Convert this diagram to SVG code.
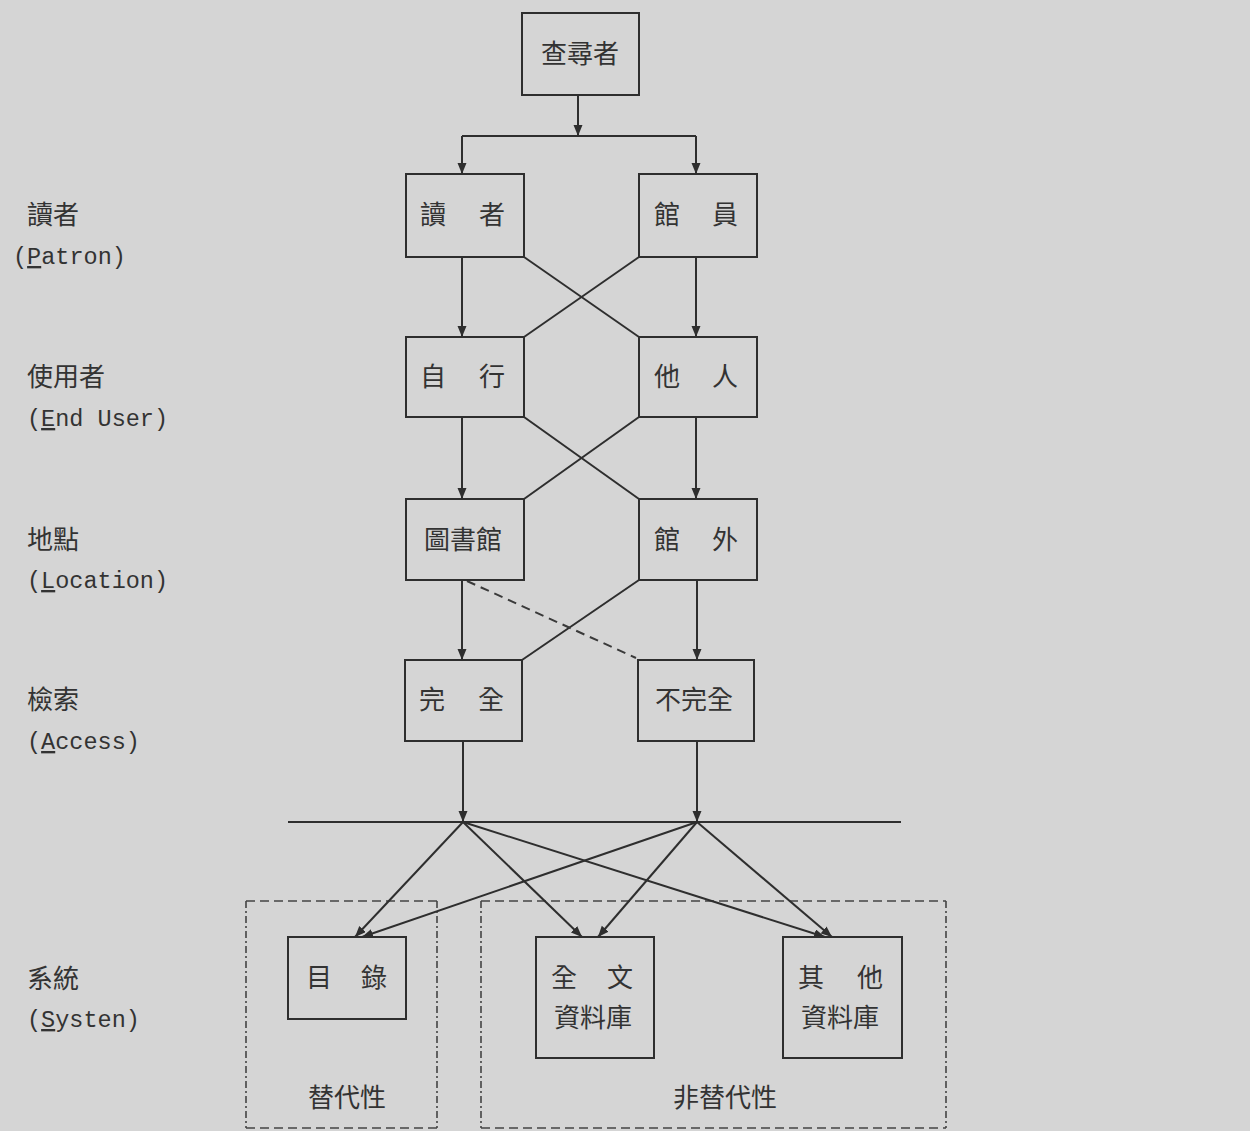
<svg xmlns="http://www.w3.org/2000/svg" width="1250" height="1131" viewBox="0 0 1250 1131">
<defs>
<style>
.bg{fill:#d5d5d5}
.box{fill:none;stroke:#2e2e2e;stroke-width:2}
.ln{fill:none;stroke:#2e2e2e;stroke-width:2}
.dash{fill:none;stroke:#3a3a3a;stroke-width:2;stroke-dasharray:9 6}
.reg{fill:none;stroke:#444;stroke-width:1.6;stroke-dasharray:9 5}
.regs{fill:none;stroke:#444;stroke-width:1.6;stroke-dasharray:7 3 2 3}
.zh{font-family:"Noto Sans CJK TC","Noto Sans CJK SC",sans-serif;font-size:26px;fill:#333}
.en{font-family:"Liberation Mono","DejaVu Sans Mono",monospace;font-size:23.5px;fill:#333}
.ul{text-decoration:underline}
</style>
<marker id="ah" markerUnits="userSpaceOnUse" markerWidth="12" markerHeight="10" refX="11" refY="4.5" orient="auto">
<path d="M0,0 L11,4.5 L0,9 Z" fill="#2e2e2e"/>
</marker>
</defs>
<rect class="bg" x="0" y="0" width="1250" height="1131"/>

<g id="row-labels">
<text class="zh" x="27" y="224">讀者</text>
<text class="en" x="13" y="264">(<tspan class="ul">P</tspan>atron)</text>
<text class="zh" x="27" y="386">使用者</text>
<text class="en" x="27" y="426">(<tspan class="ul">E</tspan>nd User)</text>
<text class="zh" x="27" y="549">地點</text>
<text class="en" x="27" y="588">(<tspan class="ul">L</tspan>ocation)</text>
<text class="zh" x="27" y="709">檢索</text>
<text class="en" x="27" y="749">(<tspan class="ul">A</tspan>ccess)</text>
<text class="zh" x="27" y="988">系統</text>
<text class="en" x="27" y="1027">(<tspan class="ul">S</tspan>ysten)</text>
</g>

<g id="regions">
<line class="reg" x1="246" y1="901" x2="437" y2="901"/>
<line class="reg" x1="246" y1="1128" x2="437" y2="1128"/>
<line class="regs" x1="246" y1="901" x2="246" y2="1128"/>
<line class="regs" x1="437" y1="901" x2="437" y2="1128"/>
<text class="zh" x="347" y="1107" text-anchor="middle">替代性</text>
<line class="reg" x1="481" y1="901" x2="946" y2="901"/>
<line class="reg" x1="481" y1="1128" x2="946" y2="1128"/>
<line class="regs" x1="481" y1="901" x2="481" y2="1128"/>
<line class="regs" x1="946" y1="901" x2="946" y2="1128"/>
<text class="zh" x="725" y="1107" text-anchor="middle">非替代性</text>
</g>

<g id="connectors">
<line class="ln" x1="578" y1="95" x2="578" y2="136" marker-end="url(#ah)"/>
<polyline class="ln" points="462,136 696,136"/>
<line class="ln" x1="462" y1="136" x2="462" y2="174" marker-end="url(#ah)"/>
<line class="ln" x1="696" y1="136" x2="696" y2="174" marker-end="url(#ah)"/>
<line class="ln" x1="462" y1="257" x2="462" y2="337" marker-end="url(#ah)"/>
<line class="ln" x1="696" y1="257" x2="696" y2="337" marker-end="url(#ah)"/>
<line class="ln" x1="524" y1="257" x2="639" y2="337"/>
<line class="ln" x1="639" y1="257" x2="524" y2="337"/>
<line class="ln" x1="462" y1="417" x2="462" y2="499" marker-end="url(#ah)"/>
<line class="ln" x1="696" y1="417" x2="696" y2="499" marker-end="url(#ah)"/>
<line class="ln" x1="524" y1="417" x2="639" y2="499"/>
<line class="ln" x1="639" y1="417" x2="524" y2="499"/>
<line class="ln" x1="462" y1="580" x2="462" y2="660" marker-end="url(#ah)"/>
<line class="ln" x1="697" y1="580" x2="697" y2="660" marker-end="url(#ah)"/>
<line class="ln" x1="639" y1="580" x2="522" y2="660"/>
<line class="dash" x1="467" y1="581" x2="636" y2="658"/>
<line class="ln" x1="463" y1="741" x2="463" y2="822" marker-end="url(#ah)"/>
<line class="ln" x1="697" y1="741" x2="697" y2="822" marker-end="url(#ah)"/>
<line class="ln" x1="288" y1="822" x2="901" y2="822"/>
<line class="ln" x1="463" y1="822" x2="355" y2="937" marker-end="url(#ah)"/>
<line class="ln" x1="463" y1="822" x2="582" y2="937" marker-end="url(#ah)"/>
<line class="ln" x1="463" y1="822" x2="825" y2="937" marker-end="url(#ah)"/>
<line class="ln" x1="697" y1="822" x2="362" y2="937" marker-end="url(#ah)"/>
<line class="ln" x1="697" y1="822" x2="598" y2="937" marker-end="url(#ah)"/>
<line class="ln" x1="697" y1="822" x2="832" y2="937" marker-end="url(#ah)"/>
</g>

<g id="n-searcher"><rect class="box" x="522" y="13" width="117" height="82"/><text class="zh" x="580" y="63" text-anchor="middle">查尋者</text></g>
<g id="n-reader"><rect class="box" x="406" y="174" width="118" height="83"/><text class="zh" x="420" y="224">讀</text><text class="zh" x="479" y="224">者</text></g>
<g id="n-librarian"><rect class="box" x="639" y="174" width="118" height="83"/><text class="zh" x="654" y="224">館</text><text class="zh" x="712" y="224">員</text></g>
<g id="n-self"><rect class="box" x="406" y="337" width="118" height="80"/><text class="zh" x="420" y="386">自</text><text class="zh" x="479" y="386">行</text></g>
<g id="n-other"><rect class="box" x="639" y="337" width="118" height="80"/><text class="zh" x="654" y="386">他</text><text class="zh" x="712" y="386">人</text></g>
<g id="n-library"><rect class="box" x="406" y="499" width="118" height="81"/><text class="zh" x="463" y="549" text-anchor="middle">圖書館</text></g>
<g id="n-outside"><rect class="box" x="639" y="499" width="118" height="81"/><text class="zh" x="654" y="549">館</text><text class="zh" x="712" y="549">外</text></g>
<g id="n-full"><rect class="box" x="405" y="660" width="117" height="81"/><text class="zh" x="419" y="709">完</text><text class="zh" x="478" y="709">全</text></g>
<g id="n-partial"><rect class="box" x="638" y="660" width="116" height="81"/><text class="zh" x="694" y="709" text-anchor="middle">不完全</text></g>
<g id="n-catalog"><rect class="box" x="288" y="937" width="118" height="82"/><text class="zh" x="306" y="987">目</text><text class="zh" x="361" y="987">錄</text></g>
<g id="n-fulltext"><rect class="box" x="536" y="937" width="118" height="121"/><text class="zh" x="551" y="987">全</text><text class="zh" x="607" y="987">文</text><text class="zh" x="593" y="1027" text-anchor="middle">資料庫</text></g>
<g id="n-otherdb"><rect class="box" x="783" y="937" width="119" height="121"/><text class="zh" x="798" y="987">其</text><text class="zh" x="857" y="987">他</text><text class="zh" x="840" y="1027" text-anchor="middle">資料庫</text></g>
</svg>
